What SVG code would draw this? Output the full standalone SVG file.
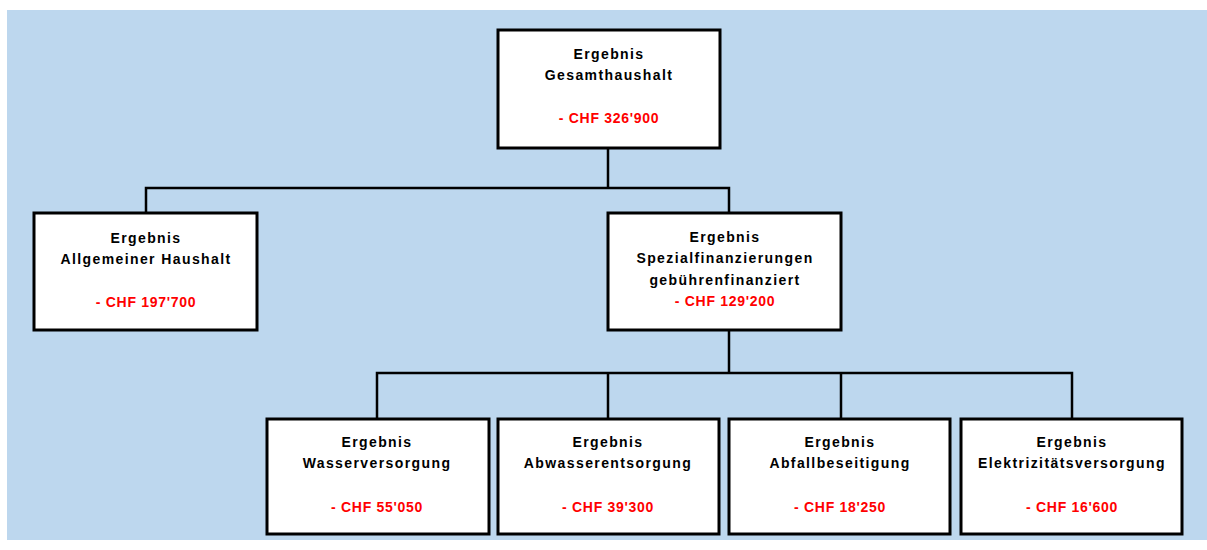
<svg xmlns="http://www.w3.org/2000/svg" width="1207" height="550" viewBox="0 0 1207 550">
<style>
.box{fill:#fff;stroke:#000;stroke-width:3}
.conn{fill:none;stroke:#000;stroke-width:2.5}
.t{font-family:"Liberation Sans",Arial,sans-serif;font-weight:bold;font-size:14px;text-anchor:middle;fill:#000;letter-spacing:1.4px}
.r{font-family:"Liberation Sans",Arial,sans-serif;font-weight:bold;font-size:14px;text-anchor:middle;fill:#ff0000;letter-spacing:0.7px}
</style>
<rect x="0" y="0" width="1207" height="550" fill="#fff"/>
<rect x="7" y="10" width="1200" height="530" fill="#BDD7EE"/>
<g id="connectors">
<path class="conn" d="M608,148 V188 M146,213 V188 H729 V213"/>
<path class="conn" d="M729,330 V373 M377,418 V373 H1072 V418 M608,373 V418 M841,373 V418"/>
</g>
<g id="n-gesamt">
<rect class="box" x="498" y="30" width="222" height="118"/>
<text class="t" x="609" y="59">Ergebnis</text>
<text class="t" x="609" y="80">Gesamthaushalt</text>
<text class="r" x="609" y="123">- CHF 326'900</text>
</g>
<g id="n-allgemein">
<rect class="box" x="34" y="213" width="223" height="117"/>
<text class="t" x="146" y="243">Ergebnis</text>
<text class="t" x="146" y="264">Allgemeiner Haushalt</text>
<text class="r" x="146" y="307">- CHF 197'700</text>
</g>
<g id="n-spezial">
<rect class="box" x="608" y="213" width="233" height="117"/>
<text class="t" x="725" y="242">Ergebnis</text>
<text class="t" x="725" y="263">Spezialfinanzierungen</text>
<text class="t" x="725" y="285">gebührenfinanziert</text>
<text class="r" x="725" y="306">- CHF 129'200</text>
</g>
<g id="n-wasser">
<rect class="box" x="267" y="419" width="222" height="115"/>
<text class="t" x="377" y="447">Ergebnis</text>
<text class="t" x="377" y="468">Wasserversorgung</text>
<text class="r" x="377" y="512">- CHF 55'050</text>
</g>
<g id="n-abwasser">
<rect class="box" x="498" y="419" width="221" height="115"/>
<text class="t" x="608" y="447">Ergebnis</text>
<text class="t" x="608" y="468">Abwasserentsorgung</text>
<text class="r" x="608" y="512">- CHF 39'300</text>
</g>
<g id="n-abfall">
<rect class="box" x="729" y="419" width="221" height="115"/>
<text class="t" x="840" y="447">Ergebnis</text>
<text class="t" x="840" y="468">Abfallbeseitigung</text>
<text class="r" x="840" y="512">- CHF 18'250</text>
</g>
<g id="n-elektr">
<rect class="box" x="961" y="419" width="221" height="115"/>
<text class="t" x="1072" y="447">Ergebnis</text>
<text class="t" x="1072" y="468">Elektrizitätsversorgung</text>
<text class="r" x="1072" y="512">- CHF 16'600</text>
</g>
</svg>
